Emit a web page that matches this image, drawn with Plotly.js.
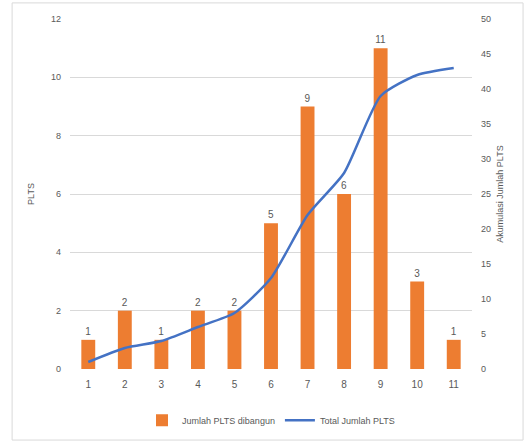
<!DOCTYPE html>
<html>
<head>
<meta charset="utf-8">
<script src="https://cdn.plot.ly/plotly-3.0.1.min.js"></script>
<style>html,body{margin:0;padding:0;background:#fff;}#chart{width:531px;height:443px;}</style>
</head>
<body>
<div id="chart"></div>
<script>
var categories = ['1','2','3','4','5','6','7','8','9','10','11'];
var jumlahPLTS = [1, 2, 1, 2, 2, 5, 9, 6, 11, 3, 1];
var totalPLTS = [1, 3, 4, 6, 8, 13, 22, 28, 39, 42, 43];
var leftTicks = [0, 2, 4, 6, 8, 10, 12];
var rightTicks = [0, 5, 10, 15, 20, 25, 30, 35, 40, 45, 50];

var grey = '#595959';
var fontFam = 'Liberation Sans, Arial, sans-serif';

var data = [
  {
    type: 'bar', name: 'Jumlah PLTS dibangun', x: categories, y: jumlahPLTS,
    marker: {color: '#ED7D31'}, width: 0.38,
    text: jumlahPLTS.map(String), textposition: 'outside', cliponaxis: false,
    textfont: {color: grey, size: 10, family: fontFam}
  },
  {
    type: 'scatter', mode: 'lines', name: 'Total Jumlah PLTS', x: categories, y: totalPLTS,
    yaxis: 'y2', line: {color: '#4472C4', width: 2.5, shape: 'spline', smoothing: 0.6}
  }
];

var layout = {
  width: 531, height: 443,
  margin: {l: 70, r: 59, t: 19, b: 74, autoexpand: false},
  paper_bgcolor: '#fff', plot_bgcolor: '#fff',
  font: {family: fontFam, color: grey, size: 10},
  showlegend: true,
  legend: {orientation: 'h', x: 0.5, xanchor: 'center', y: -0.105, yanchor: 'top', font: {size: 9, color: grey}},
  bargap: 0.6,
  xaxis: {type: 'category', showgrid: false, zeroline: false, ticks: '', tickfont: {size: 10, color: grey}, showline: false, ticklabelstandoff: 8},
  yaxis: {range: [0, 12], tickvals: leftTicks, showgrid: true, gridcolor: '#d9d9d9', gridwidth: 1, zeroline: false,
          tickfont: {size: 9, color: grey}, ticklabelstandoff: 8,
          title: {text: 'PLTS', font: {size: 9, color: grey}, standoff: 14}},
  yaxis2: {range: [0, 50], tickvals: rightTicks, overlaying: 'y', side: 'right', showgrid: false, zeroline: false,
           tickfont: {size: 9, color: grey}, ticklabelstandoff: 8,
           title: {text: 'Akumulasi Jumlah PLTS', font: {size: 9, color: grey}, standoff: 6}},
  shapes: [{type: 'rect', xref: 'paper', yref: 'paper', x0: -0.144, x1: 1.127, y0: -0.203, y1: 1.046,
            line: {color: '#d9d9d9', width: 1}}]
};

Plotly.newPlot('chart', data, layout, {displayModeBar: false, staticPlot: true});
</script>
</body>
</html>
